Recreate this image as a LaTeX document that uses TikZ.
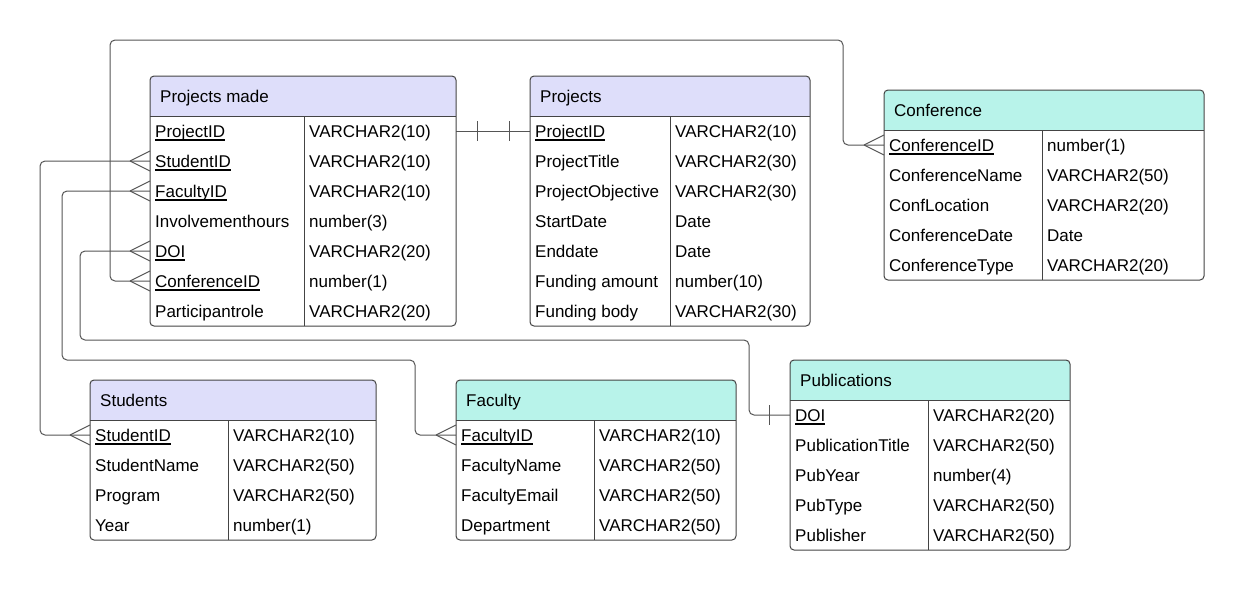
\documentclass[tikz,border=0pt]{standalone}
\usepackage{fontspec}
\setmainfont{Liberation Sans}
\usetikzlibrary{calc}
\definecolor{lav}{HTML}{DEDEFA}
\definecolor{cya}{HTML}{B8F3EA}
\definecolor{edge}{HTML}{444444}
\definecolor{wire}{HTML}{555555}
\newcommand\ulk[1]{\setbox0\hbox{#1}\rlap{\rule[-3.6pt]{\wd0}{1.3pt}}\box0}
% #1 name #2 x1 #3 xdiv #4 x2 #5 ytop #6 ybot #7 fill #8 title #9 rows
\newcommand\ertable[9]{%
  \fill[white,rounded corners=4pt] (#2,#5) rectangle (#4,#6);
  \begin{scope}
    \clip[rounded corners=4pt] (#2,#5) rectangle (#4,#6);
    \fill[#7] (#2,#5) rectangle (#4,#5+40);
  \end{scope}
  \draw[edge,line width=1pt] (#2,#5+40) -- (#4,#5+40) (#3,#5+40) -- (#3,#6);
  \draw[edge,line width=1pt,rounded corners=4pt] (#2,#5) rectangle (#4,#6);
  \node[ttl] (#1-t) at (#2+10,#5+26) {#8};
  \foreach \f/\t [count=\i] in {#9} {
    \node[fld] (#1-\i) at (#2+5,#5+40+30*\i-9) {\f};
    \node[fld] (#1-\i-ty) at (#3+5,#5+40+30*\i-9) {\t};
    \coordinate (#1-\i-w) at (#2,#5+40+30*\i-15);
    \coordinate (#1-\i-e) at (#4,#5+40+30*\i-15);
  }
}
\newcommand\crowL[1]{\draw[conn] ([xshift=-20pt]#1) -- ([yshift=10pt]#1) ([xshift=-20pt]#1) -- ([yshift=-10pt]#1);}
\newcommand\barAt[2]{\draw[conn] ([xshift=#2]#1) ++(0,-10) -- ++(0,20);}
\begin{document}
\begin{tikzpicture}[x=1pt,y=-1pt,
  ttl/.style={anchor=base west,inner sep=0pt,font=\fontsize{17}{20}\selectfont,text=black},
  fld/.style={anchor=base west,inner sep=0pt,font=\fontsize{17}{20}\selectfont,text=black},
  conn/.style={draw=wire,line width=1pt}]
\useasboundingbox[fill=white] (0,0) rectangle (1244,590);
% connectors first
\draw[conn,rounded corners=5pt] (150,161) -| (40,435) -- (90,435);
\draw[conn,rounded corners=5pt] (150,191) -| (62,360) -| (415,435) -- (456,435);
\draw[conn,rounded corners=5pt] (150,251) -| (80,340) -| (749,415) -- (790,415);
\draw[conn,rounded corners=5pt] (150,281) -| (110,40) -| (843,145) -- (884,145);
\draw[conn] (456,131) -- (530,131);
\ertable{pm}{150}{304}{456}{76}{326}{lav}{Projects made}{\ulk{ProjectID}/VARCHAR2(10),\ulk{StudentID}/VARCHAR2(10),\ulk{FacultyID}/VARCHAR2(10),Involvementhours/number(3),\ulk{DOI}/VARCHAR2(20),\ulk{ConferenceID}/number(1),Participantrole/VARCHAR2(20)}
\ertable{pr}{530}{670}{810}{76}{326}{lav}{Projects}{\ulk{ProjectID}/VARCHAR2(10),ProjectTitle/VARCHAR2(30),ProjectObjective/VARCHAR2(30),StartDate/Date,Enddate/Date,Funding amount/number(10),Funding body/VARCHAR2(30)}
\ertable{co}{884}{1042}{1204}{90}{280}{cya}{Conference}{\ulk{ConferenceID}/number(1),ConferenceName/VARCHAR2(50),ConfLocation/VARCHAR2(20),ConferenceDate/Date,ConferenceType/VARCHAR2(20)}
\ertable{st}{90}{228}{376}{380}{540}{lav}{Students}{\ulk{StudentID}/VARCHAR2(10),StudentName/VARCHAR2(50),Program/VARCHAR2(50),Year/number(1)}
\ertable{fa}{456}{594}{736}{380}{540}{cya}{Faculty}{\ulk{FacultyID}/VARCHAR2(10),FacultyName/VARCHAR2(50),FacultyEmail/VARCHAR2(50),Department/VARCHAR2(50)}
\ertable{pu}{790}{928}{1070}{360}{550}{cya}{Publications}{\ulk{DOI}/VARCHAR2(20),PublicationTitle/VARCHAR2(50),PubYear/number(4),PubType/VARCHAR2(50),Publisher/VARCHAR2(50)}
% ends
\crowL{pm-2-w}\crowL{pm-3-w}\crowL{pm-5-w}\crowL{pm-6-w}
\crowL{st-1-w}\crowL{fa-1-w}\crowL{co-1-w}
\barAt{pm-1-e}{21pt}\barAt{pr-1-w}{-21pt}
\barAt{pu-1-w}{-21pt}
\end{tikzpicture}
\end{document}
